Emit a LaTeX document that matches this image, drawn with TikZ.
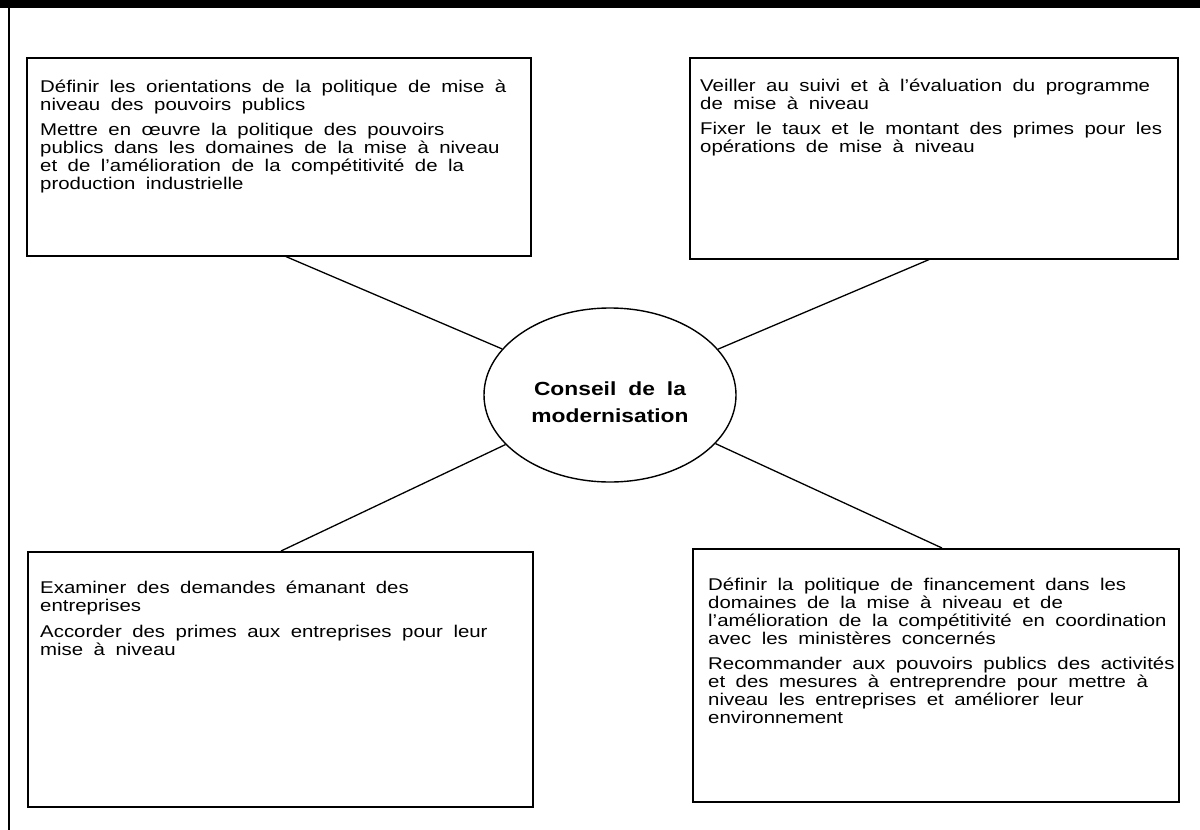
\documentclass[tikz,border=0pt]{standalone}
\usepackage{fontspec}
\setmainfont{Liberation Sans}[FakeStretch=1.2]
\usepackage{tikz}
\usetikzlibrary{positioning,shapes.geometric}

\begin{document}
\begin{tikzpicture}[x=1pt,y=-1pt,
panel/.style={draw,line width=1.6pt,rectangle,anchor=north west,inner sep=0pt},
note/.style={inner sep=0pt,text width=480pt,align=left,font=\fontsize{17pt}{18pt}\selectfont,execute at begin node={\setlength{\spaceskip}{10.5pt plus 2pt minus 1pt}}},
hub/.style={draw,ellipse,line width=1.4pt,minimum width=252pt,minimum height=174pt,inner sep=0pt,align=center,text height=54pt,text depth=0pt,font=\bfseries\fontsize{19pt}{27pt}\selectfont,execute at begin node={\setlength{\spaceskip}{12pt plus 2pt minus 1pt}}},
spoke/.style={line width=1.3pt}]
\useasboundingbox (0,0) rectangle (1200,830);
\fill (0,0) rectangle (1200,8); \draw[line width=2.5pt] (9,0) -- (9,830);
\node[panel,minimum width=504pt,minimum height=198pt] (b1) at (26,57) {}; \node[panel,minimum width=488pt,minimum height=201pt] (b2) at (689,57) {};
\node[panel,minimum width=505pt,minimum height=255pt] (b3) at (27,551) {}; \node[panel,minimum width=486pt,minimum height=253pt] (b4) at (692,548) {};
\node[hub] (c) at (610,395) {Conseil de la\\modernisation};
\node[note,below right=35pt and 14pt of b1.north west,anchor=base west] (t1) {Définir les orientations de la politique de mise à\\niveau des pouvoirs publics\\[7pt]Mettre en œuvre la politique des pouvoirs\\publics dans les domaines de la mise à niveau\\et de l'amélioration de la compétitivité de la\\production industrielle};
\node[note,below right=34pt and 11pt of b2.north west,anchor=base west] (t2) {Veiller au suivi et à l'évaluation du programme\\de mise à niveau\\[7pt]Fixer le taux et le montant des primes pour les\\opérations de mise à niveau};
\node[note,below right=42pt and 13pt of b3.north west,anchor=base west] (t3) {Examiner des demandes émanant des\\entreprises\\[8pt]Accorder des primes aux entreprises pour leur\\mise à niveau};
\node[note,below right=42pt and 16pt of b4.north west,anchor=base west] (t4) {Définir la politique de financement dans les\\domaines de la mise à niveau et de\\l'amélioration de la compétitivité en coordination\\avec les ministères concernés\\[7pt]Recommander aux pouvoirs publics des activités\\et des mesures à entreprendre pour mettre à\\niveau les entreprises et améliorer leur\\environnement};
\coordinate[right=260pt of b1.south west] (s1); \coordinate[right=240pt of b2.south west] (s2); \coordinate[right=254pt of b3.north west] (s3); \coordinate[right=250pt of b4.north west] (s4);
\draw[spoke] (s1) -- (c); \draw[spoke] (s2) -- (c); \draw[spoke] (s3) -- (c); \draw[spoke] (s4) -- (c);
\end{tikzpicture}
\end{document}
